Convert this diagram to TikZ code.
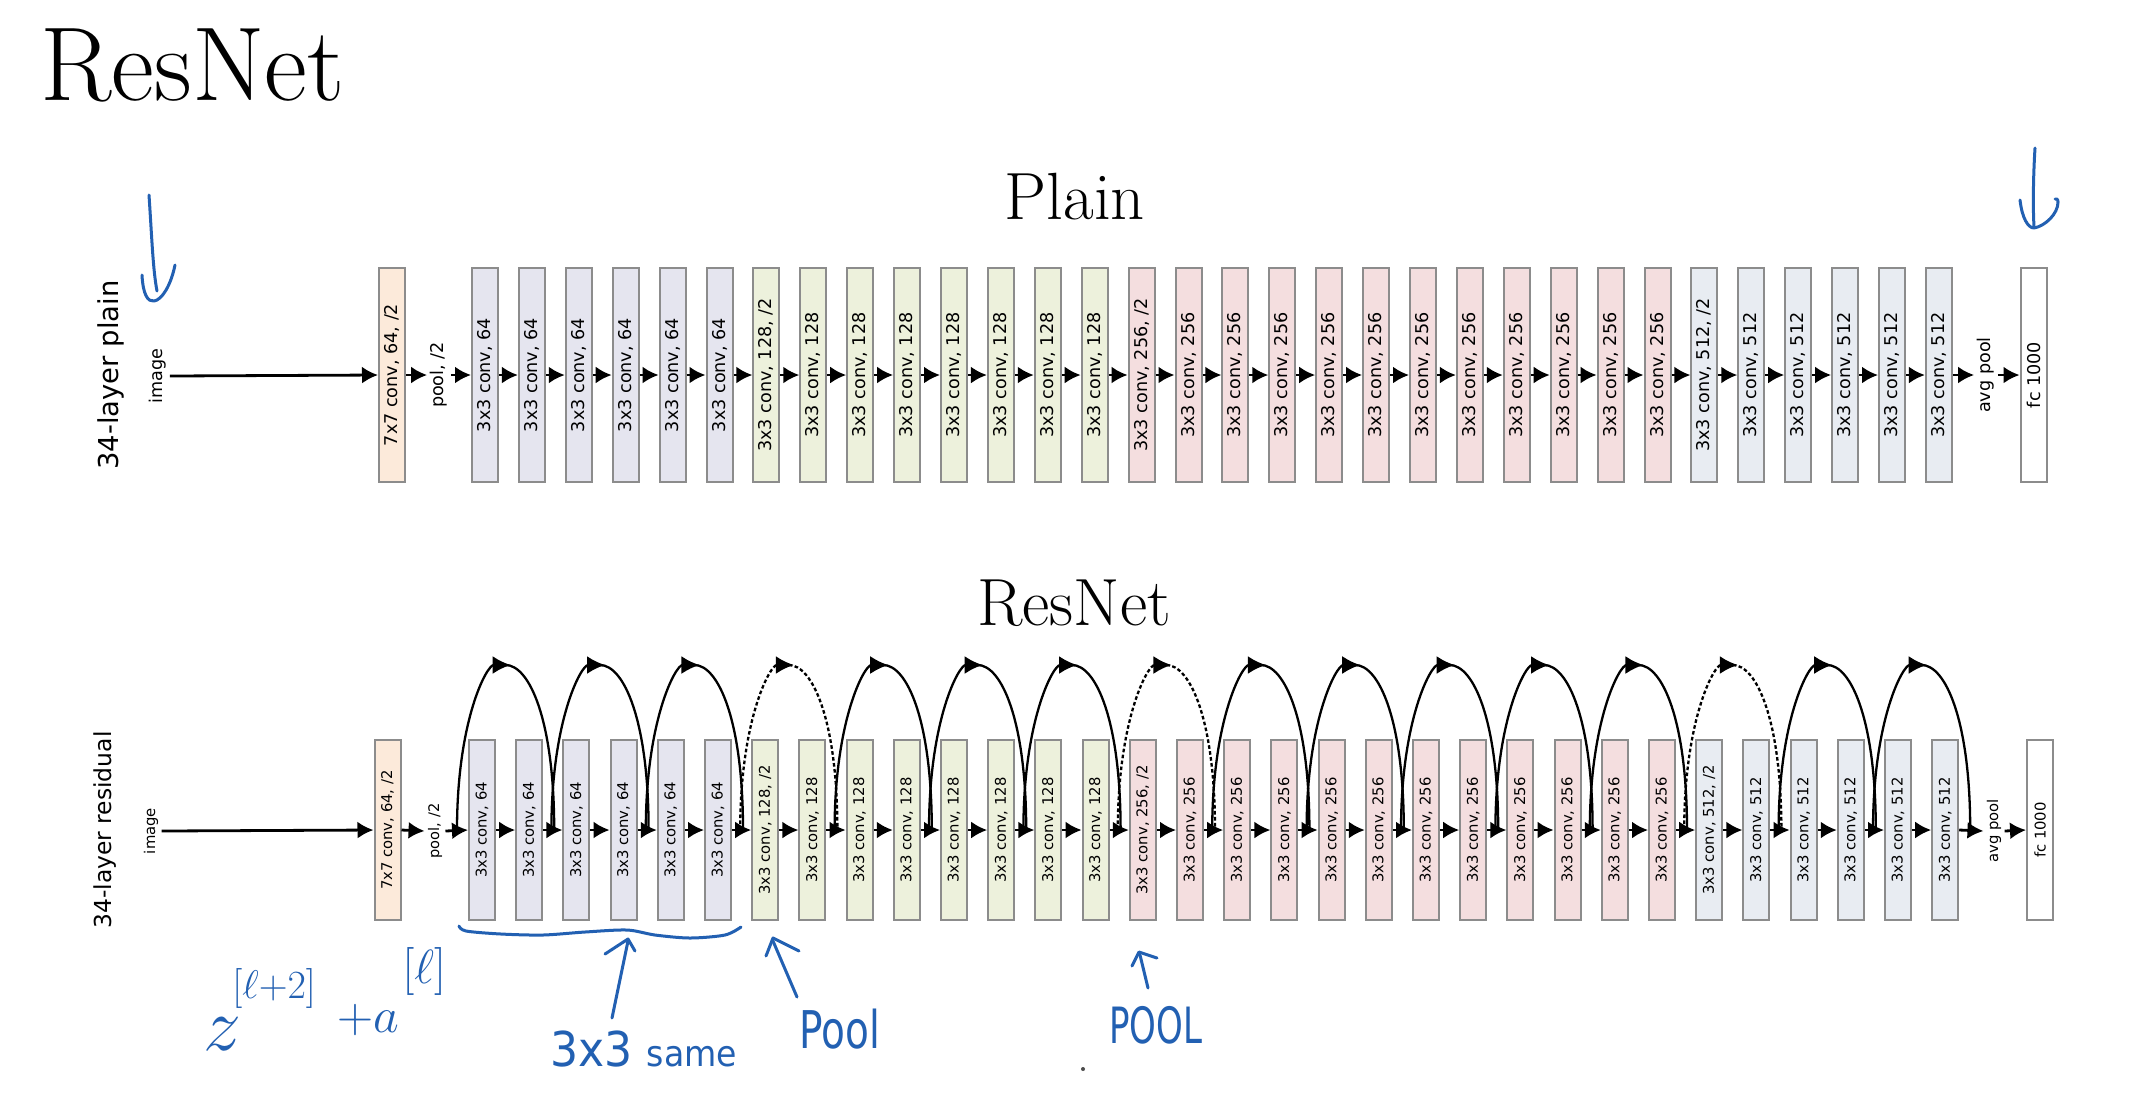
\RequirePackage{fix-cm}
\documentclass[tikz,border=0pt]{standalone}
\usepackage{fontspec}
\usepackage{graphicx}
\usetikzlibrary{arrows.meta,calc}
\newfontfamily\dvs{DejaVu Sans}
\definecolor{ink}{RGB}{34,96,178}
\definecolor{bord}{RGB}{140,140,140}
\definecolor{c7}{RGB}{252,234,218}
\definecolor{c64}{RGB}{229,229,239}
\definecolor{c128}{RGB}{237,241,220}
\definecolor{c256}{RGB}{244,222,223}
\definecolor{c512}{RGB}{232,236,242}
\newcommand\plabf{\dvs\fontsize{8.8}{10}\selectfont}
\newcommand\rlabf{\dvs\fontsize{7.4}{9}\selectfont}
\newcommand\setblk[1]{%
  \ifnum#1<7 \def\ch{64}\def\col{c64}\else
  \ifnum#1<15 \def\ch{128}\def\col{c128}\else
  \ifnum#1<27 \def\ch{256}\def\col{c256}\else
  \def\ch{512}\def\col{c512}\fi\fi\fi
  \def\sfx{}%
  \ifnum#1=7 \def\sfx{, /2}\fi
  \ifnum#1=15 \def\sfx{, /2}\fi
  \ifnum#1=27 \def\sfx{, /2}\fi}
\begin{document}
\begin{tikzpicture}[x=0.5pt,y=-0.5pt,
  pbox/.style={draw=bord, line width=1pt, inner sep=0pt, minimum width=13pt, minimum height=107pt},
  rbox/.style={draw=bord, line width=1pt, inner sep=0pt, minimum width=13pt, minimum height=90pt},
  lab/.style={inner sep=1.5pt},
  arr/.style={-{Latex[length=8pt,width=8.5pt]}, line width=1.4pt},
  skipup/.style={-{Latex[length=9pt,width=9pt]}, line width=1.15pt},
  skipdown/.style={line width=1.15pt},
  skipdash/.style={dash pattern=on 1.8pt off 1.2pt},
  pen/.style={draw=ink, line width=1.5pt, line cap=round, line join=round},
  hw/.style={text=ink, inner sep=0pt}
]
\useasboundingbox (0,0) rectangle (2146,1116);
\fill[white] (0,0) rectangle (2146,1116);

% titles
\node[anchor=base west, inner sep=0pt] (title) at (40,100) {\fontsize{52.5}{60}\selectfont ResNet};
\node[anchor=base, inner sep=0pt] (plaint) at (1075,219) {\fontsize{33.4}{40}\selectfont Plain};
\node[anchor=base, inner sep=0pt] (rest) at (1074,625) {\fontsize{33.4}{40}\selectfont ResNet};

% ---------- plain row ----------
\node[inner sep=0pt] (plabel) at (111,375) {\rotatebox{90}{\dvs\fontsize{13.7}{16}\selectfont 34-layer plain}};
\node[lab] (pimg) at (158,376) {\rotatebox{90}{\plabf image}};
\node[pbox, fill=c7] (p0) at (392,375) {\rotatebox{90}{\plabf 7x7 conv, 64, /2}};
\node[lab] (ppool) at (439,375) {\rotatebox{90}{\dvs\fontsize{8.8}{10}\selectfont pool, /2}};
\foreach \i in {1,...,32} {
  \setblk{\i}
  \pgfmathsetmacro\xx{472+(\i-1)*46.9+13}
  \node[pbox, fill=\col] (p\i) at (\xx,375) {\rotatebox{90}{\plabf 3x3 conv, \ch\sfx}};
}
\node[lab] (pavg) at (1986,375) {\rotatebox{90}{\plabf avg pool}};
\node[pbox, fill=white] (pfc) at (2033.5,375) {\rotatebox{90}{\plabf fc 1000}};

\draw[arr] (pimg.east) -- (p0.west);
\draw[arr] (p0.east) -- (ppool.west);
\draw[arr] (ppool.east) -- (p1.west);
\draw[arr] (p32.east) -- (pavg.west);
\draw[arr] (pavg.east) -- (pfc.west);

% ---------- residual row ----------
\node[inner sep=0pt] (rlabel) at (105,830) {\rotatebox{90}{\dvs\fontsize{11.7}{14}\selectfont 34-layer residual}};
\node[lab] (rimg) at (151,831) {\rotatebox{90}{\rlabf image}};
\node[rbox, fill=c7] (r0) at (387.5,830) {\rotatebox{90}{\rlabf 7x7 conv, 64, /2}};
\node[lab] (rpool) at (435,831) {\rotatebox{90}{\dvs\fontsize{7.3}{9}\selectfont pool, /2}};
\foreach \i in {1,...,32} {
  \setblk{\i}
  \pgfmathsetmacro\xx{469+(\i-1)*47.2+13}
  \node[rbox, fill=\col] (r\i) at (\xx,830) {\rotatebox{90}{\rlabf 3x3 conv, \ch\sfx}};
}
\node[lab] (ravg) at (1994,831) {\rotatebox{90}{\rlabf avg pool}};
\node[rbox, fill=white] (rfc) at (2040,830) {\rotatebox{90}{\rlabf fc 1000}};

\draw[arr] (rimg.east) -- (r0.west);
\draw[arr] (r0.east) -- (rpool.west);
\draw[arr] (rpool.east) -- (r1.west);
\draw[arr] (r32.east) -- (ravg.west);
\draw[arr] (ravg.east) -- (rfc.west);

\foreach \i [evaluate=\i as \j using int(\i+1)] in {1,...,31} {
  \draw[arr] (p\i.east) -- (p\j.west);
  \draw[arr] (r\i.east) -- (r\j.west);
}

% skip connections (rising half with arrow tip at the top, then falling half)
\foreach \i in {1,3,...,31} {
  \pgfmathtruncatemacro\j{\i+1}
  \def\dsh{}
  \ifnum\i=7 \def\dsh{skipdash}\fi
  \ifnum\i=15 \def\dsh{skipdash}\fi
  \ifnum\i=27 \def\dsh{skipdash}\fi
  \coordinate (s\i) at ($(r\i.west)+(-11,0)$);
  \coordinate (e\i) at ($(r\j.east)+(11,0)$);
  \coordinate (m\i) at ($(s\i)!0.5!(e\i)+(0,-165)$);
  \draw[skipdown,\dsh] (m\i) .. controls +(23.8,0) and +(0,-110) .. (e\i);
  \draw[skipup,\dsh] (s\i) .. controls +(0,-110) and +(-23.8,0) .. ($(m\i)+(5,0)$);
}

% ---------- handwritten annotations ----------
\draw[pen] (149,195) .. controls (152,240) and (153,270) .. (157,291);
\draw[pen] (142,275) .. controls (143,295) and (148,302) .. (154,301) .. controls (162,300) and (171,285) .. (175,265);
\draw[pen] (2035,148) .. controls (2033,180) and (2033,210) .. (2034,227);
\draw[pen] (2020,200) .. controls (2022,218) and (2028,228) .. (2034,228) .. controls (2045,226) and (2058,214) .. (2058,202) .. controls (2058,199) and (2056,198) .. (2055,199);

\draw[pen] plot[smooth] coordinates {(459,926) (466,931) (501,934) (543,935) (585,932) (627,930) (655,935) (690,938) (725,935) (741,927)};
\draw[pen] (612,1018) -- (628,941);
\draw[pen] (605,954) -- (628,939) -- (635,951);
\draw[pen] (797,997) -- (773,941);
\draw[pen] (766,956) -- (773,938) -- (799,951);
\draw[pen] (1148,988) -- (1140,955);
\draw[pen] (1132,966) -- (1139,952) -- (1157,958);

\node[hw, anchor=base west] (hz) at (203,1050) {\fontsize{38}{40}\selectfont$z$};
\node[hw, anchor=base west] (hsup1) at (232,998) {\fontsize{20}{24}\selectfont$[\ell{+}2]$};
\node[hw, anchor=base west] (hplus) at (337,1032) {\fontsize{25}{30}\selectfont$+a$};
\node[hw, anchor=base west] (hsup2) at (402,983) {\fontsize{24}{28}\selectfont$[\ell]$};
\node[hw, anchor=base west] (hsame) at (550,1066) {\dvs\scalebox{0.92}[1]{\fontsize{24}{28}\selectfont 3x3 \fontsize{18}{22}\selectfont same}};
\node[hw, anchor=base west] (hpool1) at (799,1048) {\dvs\scalebox{0.75}[1]{\fontsize{26}{30}\selectfont Pool}};
\node[hw, anchor=base west] (hpool2) at (1109,1043) {\dvs\scalebox{0.68}[1]{\fontsize{25}{30}\selectfont POOL}};
\fill[black!70] (1083,1069) circle (1pt);
\end{tikzpicture}
\end{document}
